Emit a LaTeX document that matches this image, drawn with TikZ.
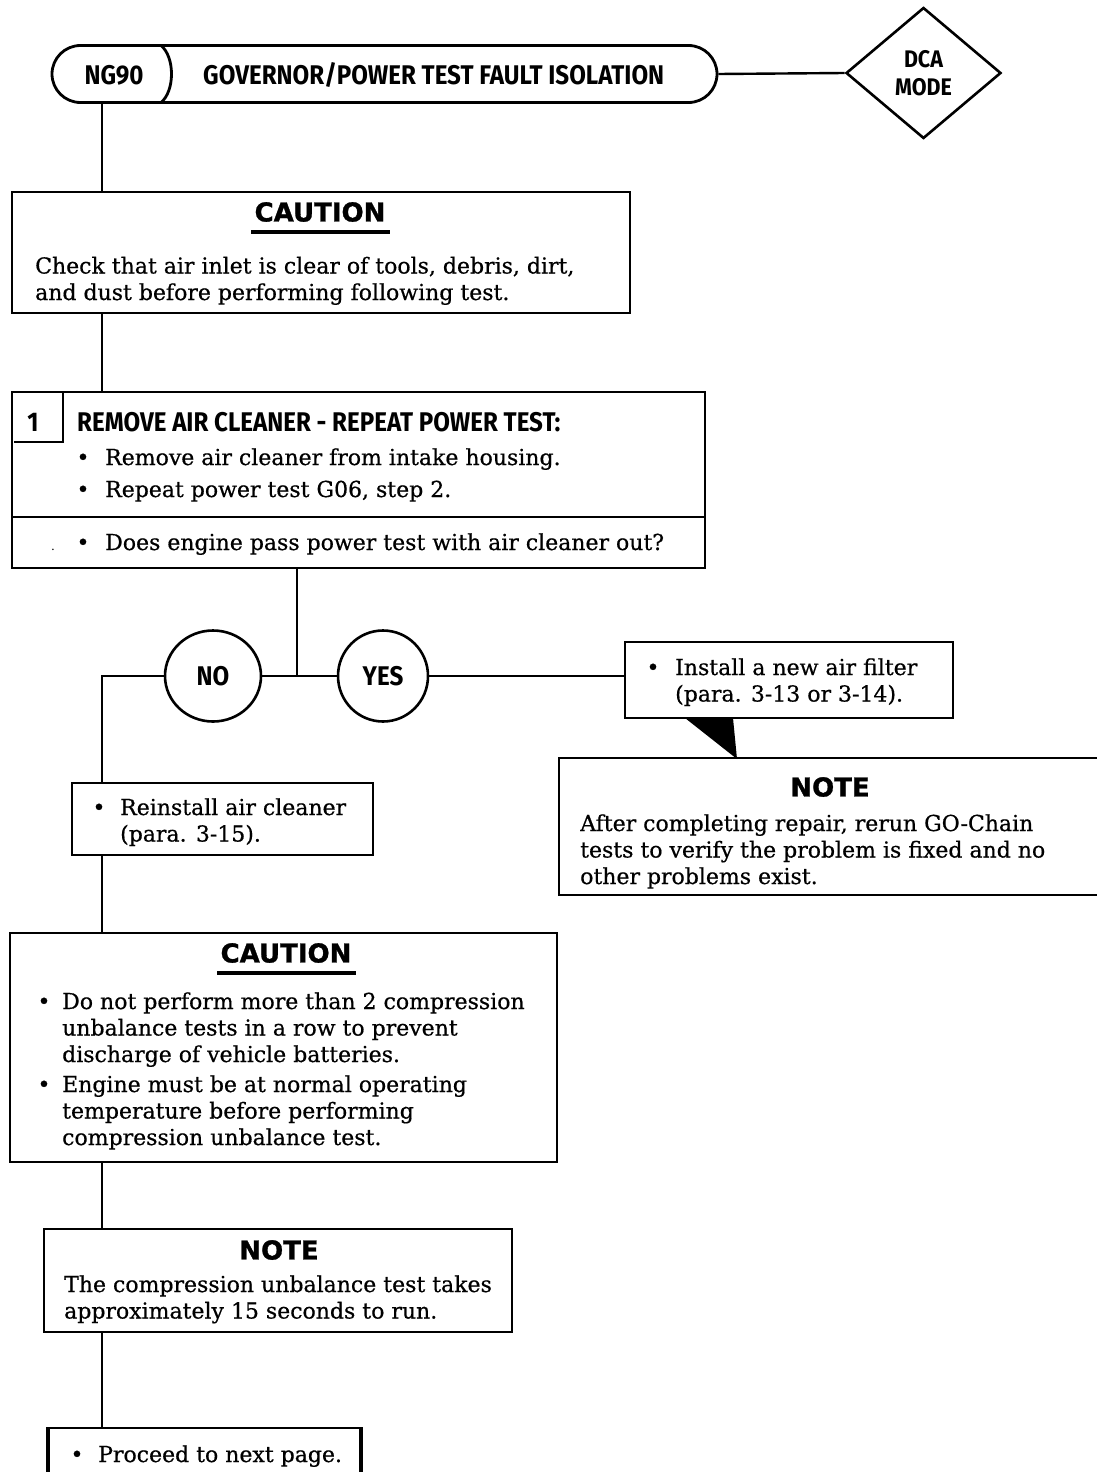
\documentclass[tikz,border=0pt]{standalone}
\usepackage{fontspec}
\setmainfont{DejaVu Serif}
\newfontfamily\bodyfont{DejaVu Serif}[FakeBold=0.6]
\newfontfamily\hdrfont{Fira Sans}[FakeStretch=0.894]
\newfontfamily\heavyfont{DejaVu Sans}[FakeBold=1.2]
\usetikzlibrary{shapes.geometric,shapes.misc}
\begin{document}
\begin{tikzpicture}[x=1pt,y=-1pt,
  frame/.style={draw, line width=2.8pt, anchor=north west, inner sep=0pt, outer sep=0pt},
  edge/.style={line width=2.8pt},
  conn/.style={line width=2.4pt},
  body/.style={font=\bodyfont\fontsize{22}{26.5}\selectfont, inner sep=0pt, anchor=base west, align=left},
  hdr/.style={font=\hdrfont\bfseries\fontsize{27}{30}\selectfont, inner sep=0pt},
  heavy/.style={font=\heavyfont\bfseries\fontsize{26}{30}\selectfont, inner sep=0pt},
  bul/.style={font=\bodyfont\fontsize{22}{26.5}\selectfont, inner sep=0pt, anchor=base}
]
\useasboundingbox[fill=white] (0,0) rectangle (1097,1472);
\coordinate (trunk) at (102,0);

% header
\node[rounded rectangle, draw, line width=2.8pt, minimum width=665pt, minimum height=57pt, inner sep=0pt] (caps) at (384.5,74) {};
\draw[edge] (161,45.5) .. controls (175,57) and (175,91) .. (161,102.5);
\node[hdr, anchor=center] (ng) at (114,75) {NG90};
\node[hdr, anchor=west] (title) at (203,75) {GOVERNOR/POWER TEST FAULT ISOLATION};
\node[diamond, draw, line width=2.6pt, minimum width=155pt, minimum height=131pt, inner sep=0pt, align=center, font=\hdrfont\bfseries\fontsize{24}{28}\selectfont] (dca) at (923.5,73) {DCA\\MODE};
\draw[conn] (caps.east) -- (dca.west);

% caution 1
\node[frame, minimum width=618pt, minimum height=121pt] (c1) at (12,192) {};
\draw[conn] (trunk |- caps.south) -- (trunk |- c1.north);
\node[heavy] (c1h) at (320,212) {CAUTION};
\draw[line width=4pt] ([xshift=-3pt,yshift=-10pt]c1h.south west) -- ([xshift=4pt,yshift=-10pt]c1h.south east);
\node[body] (c1t) at (35,300) {Check that air inlet is clear of tools, debris, dirt,\\and dust before performing following test.};

% step 1
\node[frame, minimum width=693pt, minimum height=176pt] (s1) at (12,392) {};
\draw[conn] (trunk |- c1.south) -- (trunk |- s1.north);
\draw[edge] (12,517) -- (705,517);
\draw[edge] (14,442) -- (63,442) -- (63,393);
\node[hdr, anchor=base] (n1) at (33,431) {1};
\node[hdr, anchor=base west] (s1h) at (77,431) {REMOVE AIR CLEANER - REPEAT POWER TEST:};
\node[bul] (b1) at (83,465) {\textbullet};
\node[body] (s1a) at (105,465) {Remove air cleaner from intake housing.};
\node[bul] (b2) at (83,497) {\textbullet};
\node[body] (s1b) at (105,497) {Repeat power test G06, step 2.};
\node[bul, font=\fontsize{12}{12}\selectfont] (dot) at (53,550) {.};
\node[bul] (b3) at (83,550) {\textbullet};
\node[body] (s1c) at (105,550) {Does engine pass power test with air cleaner out?};

% decision
\coordinate (j) at (297,676);
\node[ellipse, draw, line width=2.6pt, minimum width=96pt, minimum height=91pt, inner sep=0pt, hdr] (no) at (213,676) {NO};
\node[ellipse, draw, line width=2.6pt, minimum width=90pt, minimum height=91pt, inner sep=0pt, hdr] (yes) at (383,676) {YES};
\draw[conn] (j |- s1.south) -- (j);
\draw[conn] (no.east) -- (yes.west);

% yes branch
\node[frame, minimum width=328pt, minimum height=76pt] (inst) at (625,642) {};
\draw[conn] (yes.east) -- (yes.east -| inst.west);
\node[bul] (b4) at (653,675) {\textbullet};
\node[body] (instt) at (675,701.5) {Install a new air filter\\(para. 3-13 or 3-14).};
\node[frame, minimum width=545pt, minimum height=137pt] (note1) at (559,758) {};
\fill (685,718) -- (733,718) -- (737,759) -- cycle;
\node[heavy] (n1h) at (830,787) {NOTE};
\node[body] (n1t) at (580,884) {After completing repair, rerun GO-Chain\\tests to verify the problem is fixed and no\\other problems exist.};

% no branch
\node[frame, minimum width=301pt, minimum height=72pt] (rein) at (72,783) {};
\draw[conn] (no.west) -- (no.west -| trunk) -- (trunk |- rein.north);
\node[bul] (b5) at (99,815) {\textbullet};
\node[body] (reint) at (120,841.5) {Reinstall air cleaner\\(para. 3-15).};

% caution 2
\node[frame, minimum width=547pt, minimum height=229pt] (c2) at (10,933) {};
\draw[conn] (trunk |- rein.south) -- (trunk |- c2.north);
\node[heavy] (c2h) at (286,953) {CAUTION};
\draw[line width=4pt] ([xshift=-3pt,yshift=-10pt]c2h.south west) -- ([xshift=4pt,yshift=-10pt]c2h.south east);
\node[bul] (b6) at (44,1009) {\textbullet};
\node[body] (c2a) at (62,1062) {Do not perform more than 2 compression\\unbalance tests in a row to prevent\\discharge of vehicle batteries.};
\node[bul] (b7) at (44,1092) {\textbullet};
\node[body] (c2b) at (62,1145) {Engine must be at normal operating\\temperature before performing\\compression unbalance test.};

% note 2
\node[frame, minimum width=468pt, minimum height=103pt] (note2) at (44,1229) {};
\draw[conn] (trunk |- c2.south) -- (trunk |- note2.north);
\node[heavy] (n2h) at (279,1250) {NOTE};
\node[body] (n2t) at (64,1318.5) {The compression unbalance test takes\\approximately 15 seconds to run.};

% last
\node[inner sep=0pt, outer sep=0pt, anchor=north west, minimum width=313pt, minimum height=60pt] (last) at (48,1428) {};
\draw[edge] (last.north west) -- (last.north east);
\draw[line width=4pt] (last.south west) -- ([yshift=1.4pt]last.north west);
\draw[line width=4pt] (last.south east) -- ([yshift=1.4pt]last.north east);
\draw[conn] (trunk |- note2.south) -- (trunk |- last.north);
\node[bul] (b8) at (77,1462) {\textbullet};
\node[body] (lastt) at (98,1462) {Proceed to next page.};
\end{tikzpicture}
\end{document}
